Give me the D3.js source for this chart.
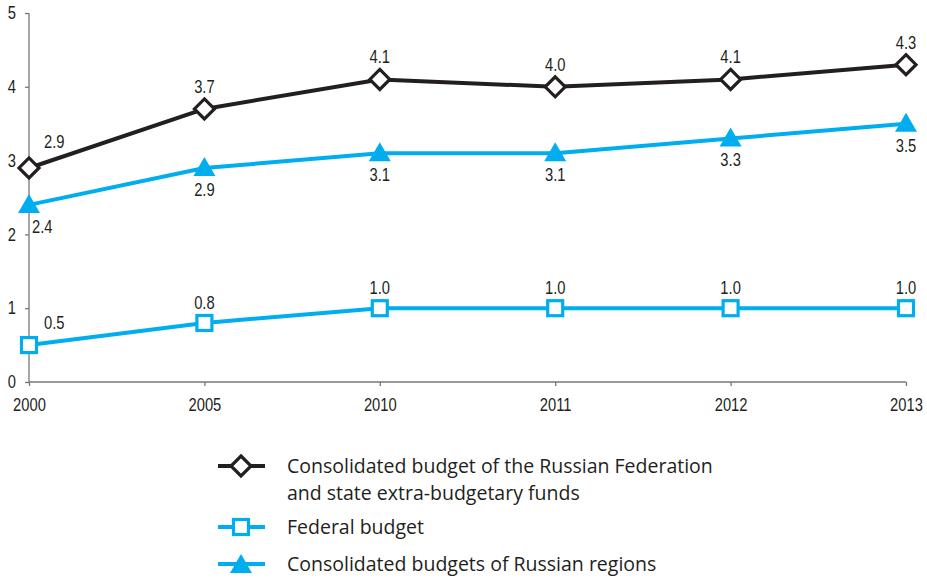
<!DOCTYPE html>
<html><head><meta charset="utf-8">
<script src="https://cdn.jsdelivr.net/npm/d3@7"></script>
<style>body{margin:0;background:#fff}svg{display:block}</style>
</head><body><svg id="c" width="927" height="579"></svg>
<script>
const years = ["2000","2005","2010","2011","2012","2013"];
const consolidated = [2.9, 3.7, 4.1, 4.0, 4.1, 4.3];
const federal = [0.5, 0.8, 1.0, 1.0, 1.0, 1.0];
const regions = [2.4, 2.9, 3.1, 3.1, 3.3, 3.5];
const yTicks = [0,1,2,3,4,5];
const seriesNames = ["Consolidated budget of the Russian Federation|and state extra-budgetary funds","Federal budget","Consolidated budgets of Russian regions"];

const svg = d3.select("#c");
const x = d3.scalePoint().domain(years).range([29, 906]);
const y = d3.scaleLinear().domain([0,5]).range([382, 13]);
const tickFont = "'Liberation Sans','Arial',sans-serif";
const SX = 0.82;
const BLUE = "#00aeef", BLACK = "#231f20";

const yAx = svg.append("g").attr("transform","translate(29,0)")
  .call(d3.axisLeft(y).tickValues(yTicks).tickSize(4).tickPadding(9).tickFormat(d3.format("d")));
const xAx = svg.append("g").attr("transform","translate(0,382)")
  .call(d3.axisBottom(x).tickSize(4).tickPadding(12));
[yAx,xAx].forEach(g=>{
  g.selectAll("path,line").attr("stroke","#777").attr("stroke-width",1.3);
  g.selectAll("text").attr("font-family",tickFont).attr("font-size",18).attr("fill","#231f20");
});
yAx.selectAll("text").each(function(){
  const t = d3.select(this); t.attr("x", +t.attr("x")/SX).attr("transform",`scale(${SX},1)`);
});
xAx.selectAll("text").attr("transform",`scale(${SX},1)`);
xAx.select(".domain").attr("d","M29,0H906");
yAx.select(".domain").attr("d","M0,13V382");

const line = d3.line().x((d,i)=>x(years[i])).y(d=>y(d));
function drawLine(data,color){
  svg.append("path").datum(data).attr("d",line).attr("fill","none")
    .attr("stroke",color).attr("stroke-width",4).attr("stroke-linejoin","round");
}
drawLine(consolidated,BLACK);
drawLine(regions,BLUE);
drawLine(federal,BLUE);

function diamond(g,cx,cy){
  g.append("path").attr("d",`M${cx},${cy-10}L${cx+10},${cy}L${cx},${cy+10}L${cx-10},${cy}Z`)
   .attr("fill","#fff").attr("stroke",BLACK).attr("stroke-width",3.2);
}
function square(g,cx,cy){
  g.append("rect").attr("x",cx-7.5).attr("y",cy-7.5).attr("width",15).attr("height",15)
   .attr("fill","#fff").attr("stroke",BLUE).attr("stroke-width",3.2);
}
function tri(g,cx,cy){
  g.append("path").attr("d",`M${cx},${cy-11}L${cx+11},${cy+8}L${cx-11},${cy+8}Z`).attr("fill",BLUE);
}
const mk = svg.append("g");
consolidated.forEach((v,i)=>diamond(mk,x(years[i]),y(v)));
federal.forEach((v,i)=>square(mk,x(years[i]),y(v)));
regions.forEach((v,i)=>tri(mk,x(years[i]),y(v)));

const lab = svg.append("g").attr("font-family",tickFont).attr("font-size",18).attr("fill","#231f20");
const fmt = d3.format(".1f");
function label(px,py,anchor,txt){
  lab.append("text").attr("transform",`translate(${px},${py}) scale(${SX},1)`)
    .attr("text-anchor",anchor).text(txt);
}
consolidated.forEach((v,i)=>{
  const first = i===0;
  label(first? x(years[i])+15 : x(years[i]), y(v)-(first?20:16), first?"start":"middle", fmt(v));
});
federal.forEach((v,i)=>{
  const first = i===0;
  label(first? x(years[i])+15 : x(years[i]), y(v)-(first?16:14), first?"start":"middle", fmt(v));
});
regions.forEach((v,i)=>{
  const first = i===0;
  label(first? x(years[i])+3 : x(years[i]), y(v)+28, first?"start":"middle", fmt(v));
});

// legend
const lg = svg.append("g").attr("font-family","'Open Sans','Noto Sans',sans-serif").attr("font-size",19.5).attr("fill","#231f20");
const legY = [466, 527, 564];
const legColors = [BLACK, BLUE, BLUE];
const legMarks = [diamond, square, tri];
seriesNames.forEach((n,i)=>{
  lg.append("line").attr("x1",218).attr("x2",265).attr("y1",legY[i]).attr("y2",legY[i])
    .attr("stroke",legColors[i]).attr("stroke-width",4);
  legMarks[i](lg,241,legY[i]+(i===2?1:0));
  n.split("|").forEach((t,j)=>{
    lg.append("text").attr("x",287).attr("y",legY[i]+7+j*27).text(t);
  });
});
</script></body></html>
